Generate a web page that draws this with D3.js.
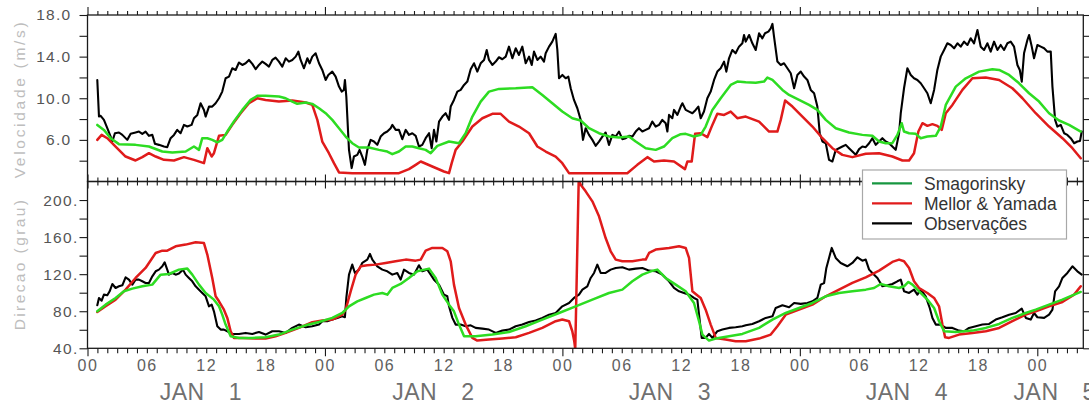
<!DOCTYPE html>
<html><head><meta charset="utf-8">
<script src="https://cdn.jsdelivr.net/npm/d3@7"></script>
<style>body{margin:0;background:#fff}svg{display:block}</style>
</head><body><svg id="c" width="1089" height="405"></svg>
<script>
// ---- DATA (hours since JAN 1 00Z, value) ----
const seriesNames = ["Smagorinsky", "Mellor & Yamada", "Observações"];
const panelTitles = ["Velocidade (m/s)", "Direcao (grau)"];
const monthLabel = "JAN";
const dayNumbers = [1, 2, 3, 4, 5];
const speedTickValues = [6, 10, 14, 18];
const speedTickLabels = ["6.0", "10.0", "14.0", "18.0"];
const dirTickValues = [40, 80, 120, 160, 200];
const dirTickLabels = ["40.", "80.", "120.", "160.", "200."];

const speedObs = [[0.99,11.76],[1.16,8.24],[1.33,8.31],[1.66,7.92],[2.0,7.12],[2.34,6.32],[2.51,5.84],[2.77,6.64],[3.18,6.71],[3.52,6.48],[4.02,6.0],[4.36,6.58],[4.86,6.71],[5.2,6.8],[5.54,6.58],[5.87,6.8],[6.21,6.39],[6.55,6.48],[6.82,5.62],[7.22,5.52],[7.73,5.36],[8.06,5.3],[8.4,6.16],[8.74,6.48],[9.07,6.96],[9.41,6.64],[9.75,7.44],[10.09,7.28],[10.52,7.44],[10.76,8.08],[11.1,8.4],[11.43,9.52],[11.77,8.88],[11.94,8.24],[12.28,9.2],[12.61,9.2],[12.95,9.52],[13.29,10.0],[13.62,10.64],[13.96,11.92],[14.3,12.08],[14.63,12.88],[14.97,12.72],[15.31,13.43],[15.65,13.2],[15.98,13.36],[16.32,13.68],[16.66,13.3],[17.0,12.79],[17.33,13.2],[17.67,13.52],[18.0,13.3],[18.34,13.04],[18.68,13.68],[19.01,13.91],[19.35,13.52],[19.69,13.04],[20.03,13.84],[20.36,13.52],[20.7,13.68],[21.04,14.0],[21.31,14.48],[21.54,13.68],[21.88,12.88],[22.22,13.84],[22.45,13.36],[22.72,14.0],[23.06,14.32],[23.4,13.36],[23.73,12.72],[24.07,11.76],[24.34,12.24],[24.74,12.56],[25.08,12.08],[25.42,11.12],[25.69,10.64],[25.92,10.8],[26.02,11.76],[26.16,10.16],[26.43,5.04],[26.7,3.29],[26.93,4.4],[27.27,4.56],[27.5,5.04],[27.77,4.4],[28.04,3.6],[28.28,5.04],[28.62,6.0],[28.95,5.84],[29.29,5.52],[29.63,6.32],[29.97,6.64],[30.3,6.8],[30.64,7.12],[30.81,7.44],[31.15,6.96],[31.48,6.96],[31.82,6.07],[32.16,6.96],[32.49,6.48],[32.83,6.64],[33.17,6.39],[33.5,5.36],[33.84,5.52],[34.18,6.16],[34.52,6.64],[34.79,5.2],[35.02,6.96],[35.26,5.84],[35.53,7.76],[35.87,8.24],[36.2,8.56],[36.54,7.92],[36.71,9.2],[37.04,9.84],[37.38,10.64],[37.72,10.8],[38.06,11.28],[38.39,11.6],[38.73,12.79],[39.07,13.36],[39.4,12.56],[39.74,13.36],[40.08,13.68],[40.35,14.64],[40.58,13.68],[40.92,13.2],[41.26,13.52],[41.59,13.94],[41.93,13.75],[42.27,14.0],[42.6,14.96],[42.94,13.84],[43.28,14.8],[43.61,14.16],[43.95,14.96],[44.29,13.36],[44.63,14.0],[44.9,13.2],[45.13,14.48],[45.47,13.68],[45.8,14.0],[46.14,13.52],[46.31,14.32],[46.65,14.96],[46.98,15.44],[47.32,16.18],[47.49,14.64],[47.66,11.92],[48.0,12.24],[48.33,11.92],[48.6,12.08],[48.84,10.96],[49.17,9.84],[49.51,9.04],[49.85,7.92],[50.08,6.0],[50.35,7.12],[50.69,6.48],[51.03,6.0],[51.36,5.43],[51.7,5.84],[52.04,6.32],[52.37,6.71],[52.71,5.52],[53.05,6.48],[53.39,6.32],[53.72,6.8],[54.06,6.07],[54.4,6.16],[54.73,6.39],[55.07,6.32],[55.41,6.8],[55.74,7.12],[56.08,6.8],[56.42,6.96],[56.76,7.12],[57.09,7.76],[57.43,7.28],[57.77,7.44],[58.1,7.92],[58.44,7.6],[58.61,6.8],[58.78,8.4],[59.11,8.08],[59.28,8.88],[59.62,8.4],[59.96,9.2],[60.13,9.52],[60.46,8.88],[60.8,8.72],[61.14,8.56],[61.47,8.88],[61.74,9.2],[61.98,8.08],[62.31,8.72],[62.65,10.0],[62.99,10.64],[63.33,11.76],[63.66,12.56],[64.0,12.88],[64.34,13.52],[64.57,12.56],[64.84,13.84],[65.18,14.64],[65.51,14.32],[65.85,14.96],[66.19,15.28],[66.36,16.08],[66.53,15.44],[66.87,16.08],[67.2,15.28],[67.54,14.64],[67.88,16.24],[68.21,15.76],[68.48,16.24],[68.82,16.4],[69.06,16.72],[69.23,17.14],[69.39,15.92],[69.73,13.52],[70.07,13.2],[70.4,13.36],[70.74,12.88],[71.08,12.4],[71.42,10.96],[71.75,12.24],[72.09,12.56],[72.43,12.08],[72.76,11.76],[73.1,10.8],[73.44,10.48],[73.77,9.2],[74.01,6.64],[74.28,5.84],[74.62,5.68],[74.95,4.08],[75.29,3.92],[75.63,5.04],[75.96,5.2],[76.3,5.36],[76.64,5.52],[76.97,5.2],[77.31,4.88],[77.65,4.56],[77.99,5.11],[78.32,5.36],[78.66,5.3],[79.0,5.68],[79.33,6.16],[79.67,5.52],[80.01,5.84],[80.34,6.16],[80.68,5.84],[81.02,5.68],[81.35,5.36],[81.69,5.04],[82.03,6.64],[82.2,8.56],[82.53,10.96],[82.87,12.88],[83.21,12.24],[83.54,11.92],[83.88,11.76],[84.22,11.44],[84.56,10.96],[84.89,10.48],[85.23,9.52],[85.57,10.8],[85.9,12.72],[86.24,14.0],[86.58,14.64],[86.91,15.28],[87.25,15.12],[87.59,14.8],[87.93,15.28],[88.26,14.96],[88.6,15.44],[88.94,15.12],[89.27,15.76],[89.61,15.28],[89.95,16.56],[90.28,14.96],[90.62,14.64],[90.96,15.28],[91.29,14.48],[91.63,15.44],[91.97,14.64],[92.3,15.12],[92.64,14.64],[92.98,15.28],[93.31,15.44],[93.65,14.96],[93.99,13.2],[94.23,12.72],[94.43,11.6],[94.66,14.32],[95.0,15.6],[95.17,16.08],[95.44,14.96],[95.67,13.84],[96.01,15.12],[96.35,14.96],[96.69,14.8],[97.02,14.48],[97.36,14.48],[97.53,11.12],[97.8,7.92],[98.03,7.28],[98.37,7.44],[98.71,6.64],[99.04,6.48],[99.38,6.16],[99.72,5.68],[100.05,5.84],[100.32,5.9],[100.49,6.8]];

const speedSmag = [[0.99,7.44],[1.66,6.96],[2.34,6.16],[3.18,5.59],[4.86,5.52],[6.21,5.36],[7.56,4.88],[8.57,4.79],[9.92,4.88],[10.76,5.36],[11.27,5.04],[11.6,6.16],[12.11,6.16],[12.61,6.0],[13.12,5.75],[13.62,6.0],[14.13,6.8],[14.8,7.76],[15.65,8.88],[16.49,9.84],[17.16,10.23],[18.0,10.23],[19.35,10.16],[20.03,10.0],[20.7,9.68],[21.2,9.46],[22.05,9.59],[22.72,9.46],[23.4,9.04],[24.07,8.56],[24.74,7.92],[25.42,7.12],[26.09,6.32],[26.76,5.68],[27.44,5.27],[28.45,5.27],[29.46,5.04],[30.3,4.88],[30.81,4.63],[31.48,4.88],[32.16,5.36],[32.83,5.36],[33.5,5.2],[34.18,5.04],[34.69,4.72],[35.36,5.43],[36.54,5.84],[37.55,5.68],[38.22,6.64],[38.9,8.24],[39.74,9.68],[40.58,10.64],[41.59,10.9],[43.28,10.96],[44.96,11.06],[45.97,10.32],[46.98,9.52],[47.99,8.72],[49.0,8.08],[49.85,7.86],[50.69,7.12],[51.7,6.64],[52.71,6.32],[53.72,6.23],[54.73,6.32],[55.41,5.84],[56.42,5.2],[57.43,5.04],[58.27,5.36],[59.11,6.16],[59.96,6.55],[60.46,6.58],[61.3,6.32],[61.98,6.48],[62.48,7.28],[63.16,8.88],[64.0,10.0],[65.01,11.28],[65.68,11.6],[66.53,11.54],[67.54,11.5],[68.38,11.6],[68.72,11.99],[69.23,11.76],[70.24,10.8],[70.91,10.32],[71.92,9.84],[72.93,9.36],[73.77,8.88],[74.62,7.92],[75.63,7.12],[76.97,6.71],[78.32,6.48],[79.33,6.39],[80.01,5.84],[80.68,5.68],[81.35,5.68],[81.86,6.48],[82.3,7.6],[82.53,6.8],[83.04,6.64],[83.71,6.58],[84.22,6.16],[84.89,6.32],[85.74,6.39],[86.24,7.28],[86.75,9.36],[87.76,11.12],[88.77,11.92],[90.12,12.56],[91.46,12.79],[92.14,12.72],[93.15,12.24],[94.16,11.44],[95.17,10.48],[96.18,9.68],[97.19,8.56],[98.2,7.86],[99.21,7.44],[100.39,6.8]];

const speedMY = [[0.99,6.0],[1.43,6.48],[2.0,6.16],[2.84,5.36],[3.85,4.4],[4.86,4.02],[5.54,4.34],[6.21,4.72],[6.89,4.4],[7.73,4.08],[8.74,4.02],[9.75,4.34],[10.76,4.08],[11.77,3.76],[12.11,5.2],[12.55,4.4],[12.78,4.72],[13.29,6.39],[13.96,6.48],[14.63,7.44],[15.48,8.56],[16.32,9.52],[17.16,10.0],[18.0,9.84],[19.35,9.68],[20.7,9.78],[22.05,9.59],[22.72,9.36],[23.23,7.92],[23.73,5.84],[24.4,4.72],[24.91,3.76],[25.42,2.87],[26.76,2.8],[30.13,2.8],[31.48,2.8],[32.49,3.19],[33.17,3.6],[33.68,3.92],[34.85,3.44],[36.03,2.96],[36.54,2.8],[36.81,3.76],[37.21,5.04],[37.89,5.84],[38.9,7.28],[39.91,8.08],[40.92,8.5],[41.76,8.5],[42.6,7.76],[43.61,7.28],[44.63,6.64],[45.47,5.36],[46.31,4.88],[47.32,4.4],[47.99,3.76],[48.67,2.8],[51.03,2.8],[54.56,2.8],[55.57,3.6],[56.59,4.34],[57.26,3.92],[58.27,4.02],[59.28,3.92],[60.39,3.19],[60.63,3.92],[61.07,3.92],[61.41,6.58],[61.98,6.64],[62.65,6.26],[63.16,7.44],[63.66,8.5],[64.34,8.4],[65.01,8.72],[65.68,8.08],[66.53,8.24],[67.88,7.76],[68.89,6.8],[69.73,6.8],[70.07,7.92],[70.51,9.78],[71.25,9.2],[72.26,8.24],[73.27,7.28],[74.28,6.16],[75.29,5.2],[76.3,4.56],[77.31,4.34],[78.66,4.66],[80.01,4.72],[81.35,4.4],[82.37,4.02],[83.04,4.02],[83.54,4.72],[83.98,6.8],[84.39,7.6],[84.89,7.35],[85.4,7.51],[85.9,7.35],[86.34,6.96],[86.75,8.56],[87.42,9.36],[88.43,10.8],[89.44,11.92],[90.79,11.99],[92.14,11.76],[93.48,10.96],[94.5,10.0],[95.84,8.56],[97.19,7.28],[98.54,6.16],[99.55,5.2],[100.39,4.24]];

const dirObs = [[0.99,86.4],[1.16,94.3],[1.43,91.4],[1.66,97.9],[2.0,97.2],[2.24,101.5],[2.51,109.4],[2.84,105.1],[3.18,106.9],[3.52,108.0],[3.85,116.6],[4.19,114.1],[4.53,108.7],[4.86,114.1],[5.2,114.1],[5.54,112.3],[5.87,110.5],[6.21,110.5],[6.55,117.7],[6.89,123.1],[7.22,124.9],[7.56,128.5],[7.8,132.8],[8.06,124.9],[8.23,119.5],[8.57,121.3],[8.91,119.5],[9.24,120.6],[9.65,124.9],[9.92,119.5],[10.25,115.9],[10.59,112.3],[10.93,106.9],[11.27,103.3],[11.6,99.7],[11.94,96.1],[12.28,85.3],[12.55,87.1],[12.78,79.9],[13.12,63.8],[13.46,60.2],[13.79,60.2],[14.13,58.4],[14.63,55.5],[15.31,55.5],[15.98,56.6],[16.66,55.5],[17.33,57.6],[18.0,54.8],[18.68,58.4],[19.35,58.4],[20.03,56.6],[20.7,62.0],[21.37,65.6],[22.05,62.7],[22.72,63.8],[23.4,65.6],[23.73,69.2],[24.24,69.2],[24.74,71.0],[25.25,72.8],[25.75,74.5],[26.02,73.5],[26.16,94.3],[26.43,119.5],[26.76,130.3],[27.03,121.3],[27.44,124.9],[27.77,132.1],[28.28,135.7],[28.55,141.8],[28.79,135.7],[29.29,128.5],[29.8,124.9],[30.3,123.1],[30.81,119.5],[31.31,121.3],[31.65,114.1],[31.99,124.9],[32.49,121.3],[33.0,119.5],[33.5,129.6],[33.84,123.1],[34.35,124.9],[34.69,119.5],[35.02,114.1],[35.53,108.7],[36.03,97.9],[36.37,96.1],[36.54,85.3],[36.88,72.8],[37.21,65.6],[37.72,65.6],[38.22,63.8],[38.73,64.8],[39.23,62.0],[39.91,61.2],[40.58,60.2],[41.26,56.6],[41.93,59.1],[42.6,60.2],[43.28,63.8],[43.95,65.6],[44.63,68.4],[45.3,69.9],[45.97,72.8],[46.65,76.3],[47.32,78.1],[47.99,85.3],[48.67,88.9],[49.17,94.3],[49.68,97.9],[50.02,103.3],[50.52,106.9],[50.86,115.9],[51.2,121.3],[51.53,130.3],[51.87,121.3],[52.37,121.3],[52.88,124.9],[53.39,126.7],[54.06,127.4],[54.73,124.9],[55.41,126.0],[56.08,126.7],[56.76,123.8],[57.43,123.1],[58.1,119.5],[58.78,112.3],[59.28,105.1],[59.79,101.5],[60.29,99.7],[60.8,97.9],[61.3,94.3],[61.64,92.5],[61.81,76.3],[62.08,51.2],[62.48,51.2],[62.82,55.5],[63.16,51.2],[63.66,58.4],[64.17,60.2],[64.84,62.0],[65.51,62.7],[66.19,63.8],[66.53,64.8],[67.2,66.3],[67.88,69.2],[68.55,72.8],[69.23,74.5],[69.56,83.5],[70.24,86.4],[70.91,84.3],[71.42,88.9],[72.09,87.9],[72.76,88.9],[73.27,90.7],[73.77,94.3],[74.11,108.7],[74.45,110.5],[74.68,126.7],[74.95,137.5],[75.22,148.3],[75.63,137.5],[76.13,132.1],[76.8,128.5],[77.31,132.1],[77.82,138.2],[78.32,134.6],[78.66,135.7],[79.0,124.9],[79.33,121.3],[79.84,115.9],[80.34,106.9],[80.85,108.0],[81.35,109.4],[81.86,112.3],[82.2,114.1],[82.53,101.5],[83.04,99.7],[83.54,103.3],[83.88,97.9],[84.22,103.3],[84.72,96.1],[85.13,83.5],[85.4,72.8],[85.74,65.6],[86.24,65.6],[86.75,62.0],[87.42,62.0],[88.09,59.1],[88.6,58.4],[89.1,62.0],[89.78,63.8],[90.45,65.6],[91.13,66.3],[91.8,71.0],[92.47,73.5],[93.15,76.3],[93.82,78.1],[94.43,82.8],[94.84,72.8],[95.34,71.0],[95.67,78.1],[96.01,73.5],[96.69,72.8],[97.19,76.3],[97.53,81.7],[97.8,101.5],[98.2,106.9],[98.54,115.9],[99.04,121.3],[99.55,128.5],[100.05,123.1],[100.49,119.5]];

const dirSmag = [[0.99,79.9],[1.83,87.1],[2.84,94.3],[3.68,101.5],[4.53,104.4],[5.54,106.9],[6.55,108.7],[7.39,119.5],[8.23,120.2],[9.24,124.9],[10.09,126.0],[10.59,119.5],[11.27,108.7],[11.94,99.7],[12.78,92.5],[13.29,85.3],[13.62,76.3],[13.96,65.6],[14.47,53.0],[15.31,51.2],[16.66,51.2],[18.0,51.9],[19.35,54.8],[20.7,60.2],[22.05,64.8],[23.4,68.4],[24.74,72.8],[25.75,78.1],[26.43,85.3],[27.27,90.7],[28.11,94.3],[28.95,97.9],[29.8,99.7],[30.3,97.9],[30.81,105.1],[31.65,109.4],[32.49,115.9],[33.34,123.1],[34.52,126.0],[35.19,115.9],[35.87,97.9],[36.54,87.1],[37.04,79.9],[37.55,65.6],[38.06,53.0],[39.23,53.0],[40.92,54.8],[42.6,57.6],[44.29,63.8],[45.97,71.0],[47.66,78.1],[49.34,85.3],[51.03,92.5],[52.71,99.7],[54.06,103.3],[55.07,112.3],[56.08,119.5],[56.93,123.1],[57.6,124.9],[58.44,115.9],[59.45,108.7],[60.46,101.5],[61.3,88.9],[61.81,69.2],[62.15,54.8],[62.82,48.3],[63.5,50.5],[64.84,53.0],[66.19,55.5],[67.88,62.0],[69.23,71.0],[70.57,78.1],[71.92,83.5],[73.27,88.9],[74.62,96.1],[75.96,99.7],[77.31,101.5],[78.66,103.3],[79.5,105.1],[80.17,109.4],[81.02,106.9],[82.03,105.1],[82.53,106.9],[82.97,111.6],[83.38,108.7],[84.05,101.5],[84.89,92.5],[85.57,83.5],[86.07,69.2],[86.58,58.4],[87.76,57.6],[89.44,59.1],[90.79,62.0],[92.14,66.3],[93.48,72.8],[94.83,78.1],[95.84,81.7],[97.19,87.1],[98.54,92.5],[99.55,97.2],[100.39,100.8]];

const dirMY = [[0.99,79.2],[1.83,85.3],[2.84,92.5],[3.85,103.3],[4.86,115.9],[5.87,126.7],[6.89,142.9],[7.56,145.4],[8.06,145.4],[8.91,150.1],[9.92,151.9],[10.93,154.4],[11.77,153.6],[12.11,141.1],[12.61,115.9],[12.95,96.1],[13.29,90.7],[13.79,81.7],[14.13,72.8],[14.47,58.4],[14.8,51.2],[15.65,51.2],[17.0,50.5],[18.0,50.5],[19.01,53.0],[20.03,56.6],[21.37,62.0],[22.72,68.1],[23.73,69.9],[24.74,71.0],[25.75,76.3],[26.09,81.7],[26.6,101.5],[27.1,119.5],[27.61,128.5],[28.28,129.6],[29.12,130.3],[30.13,132.1],[31.14,133.9],[32.16,135.7],[33.17,134.6],[33.68,135.7],[34.18,145.4],[34.85,148.3],[35.87,148.3],[36.37,144.7],[36.71,133.9],[37.04,108.7],[37.55,83.5],[38.22,65.6],[38.9,51.2],[39.4,48.3],[40.58,49.4],[41.93,50.5],[43.28,51.9],[44.63,56.6],[45.97,62.0],[47.32,69.2],[47.99,71.0],[48.67,69.2],[49.0,58.4],[49.2,47.6],[49.3,39.0],[49.65,222.0],[49.85,216.6],[50.35,209.4],[51.03,198.6],[51.7,182.4],[52.37,159.0],[52.88,144.7],[53.39,135.7],[54.06,133.9],[55.07,133.9],[56.08,135.7],[56.42,135.7],[56.76,142.9],[57.43,146.5],[58.78,148.3],[59.79,150.1],[60.46,148.3],[60.8,137.5],[61.14,101.5],[61.47,98.6],[61.98,94.3],[62.48,81.7],[62.99,65.6],[63.5,51.2],[64.5,49.4],[65.51,47.6],[66.53,47.6],[67.88,50.5],[69.06,54.8],[69.73,63.8],[70.57,76.3],[71.92,81.7],[73.27,87.1],[74.62,96.1],[75.96,103.3],[77.31,110.5],[78.66,116.6],[80.01,123.8],[81.35,133.2],[82.03,135.7],[82.53,133.9],[83.04,126.7],[83.54,112.3],[84.05,105.1],[84.89,99.7],[85.57,94.3],[86.07,85.3],[86.41,65.6],[86.68,51.9],[87.08,51.2],[88.09,54.8],[89.44,56.6],[90.79,58.4],[92.14,62.0],[93.48,69.2],[94.83,76.3],[95.84,79.9],[97.19,85.3],[98.54,90.0],[99.72,97.9],[100.39,106.9]];

// ---- LAYOUT ----
const svg = d3.select("#c");
const FONT = "'Liberation Sans', Arial, sans-serif";
const x = d3.scaleLinear().domain([0, 100.65]).range([87.5, 1083.3]);
const yS = d3.scaleLinear().domain([2, 18]).range([181.5, 15]);
const yD = d3.scaleLinear().domain([40, 220]).range([348.3, 181.5]);
const colors = {smag: "#2ddc22", my: "#e01b1b", obs: "#000000"};
const legendColors = ["#179640", "#e01b1b", "#000000"];
const axisColor = "#1a1a1a";

const defs = svg.append("defs");
defs.append("clipPath").attr("id", "clipS").append("rect")
  .attr("x", x(0)).attr("y", yS(18)).attr("width", x(100.65) - x(0)).attr("height", yS(2) - yS(18));
defs.append("clipPath").attr("id", "clipD").append("rect")
  .attr("x", x(0)).attr("y", yD(220)).attr("width", x(100.65) - x(0)).attr("height", yD(40) - yD(220));

function drawLines(y, clip, obs, smag, my) {
  const line = d3.line().x(d => x(d[0])).y(d => y(d[1]));
  const g = svg.append("g").attr("clip-path", `url(#${clip})`).attr("fill", "none")
    .attr("stroke-linejoin", "round").attr("stroke-linecap", "round");
  g.append("path").datum(obs).attr("d", line).attr("stroke", colors.obs).attr("stroke-width", 2.1);
  g.append("path").datum(my).attr("d", line).attr("stroke", colors.my).attr("stroke-width", 2.5);
  g.append("path").datum(smag).attr("d", line).attr("stroke", colors.smag).attr("stroke-width", 2.5);
}
drawLines(yS, "clipS", speedObs, speedSmag, speedMY);
drawLines(yD, "clipD", dirObs, dirSmag, dirMY);

// ---- Ticks ----
const hours = d3.range(0, 101);
const minorH = hours.filter(h => h % 24 !== 0);
const majorH = hours.filter(h => h % 24 === 0);
function xTicks(gen, yPos, vals, size) {
  svg.append("g").attr("transform", `translate(0,${yPos})`)
    .call(gen(x).tickValues(vals).tickSize(size).tickFormat(""))
    .call(g => g.select(".domain").remove())
    .call(g => g.selectAll("line").attr("stroke", axisColor).attr("stroke-width", 1.1));
}
const yTop = yS(18), yMid = yS(2), yBot = yD(40);
xTicks(d3.axisTop, yTop, minorH, 4);
xTicks(d3.axisTop, yTop, majorH, 8);
xTicks(d3.axisTop, yMid, minorH, 4);
xTicks(d3.axisBottom, yMid, minorH, 4);
xTicks(d3.axisTop, yMid, majorH, 7);
xTicks(d3.axisBottom, yMid, majorH, 7);
xTicks(d3.axisBottom, yBot, minorH, 5);
xTicks(d3.axisBottom, yBot, majorH, 8);

// x tick labels
svg.append("g").attr("transform", `translate(0,${yBot})`)
  .call(d3.axisBottom(x).tickValues(d3.range(0, 97, 6)).tickSize(0).tickPadding(11)
    .tickFormat(h => String(h % 24).padStart(2, "0")))
  .call(g => g.select(".domain").remove())
  .call(g => g.selectAll("text").attr("font-family", FONT).attr("font-size", 16)
    .attr("fill", "#606060").attr("letter-spacing", 1.5));

// day labels
const dayAnchorHours = [7.3, 30.8, 54.7, 78.65, 93.6];
dayNumbers.forEach((d, i) => {
  const x0 = x(dayAnchorHours[i]);
  const g = svg.append("g").attr("font-family", FONT).attr("font-size", 23).attr("fill", "#707070");
  g.append("text").attr("x", x0).attr("y", 400).attr("letter-spacing", 0.5).text(monthLabel);
  g.append("text").attr("x", x0 + 69).attr("y", 400).text(d);
});

// y axes
function yAxis(scale, vals, labVals, labs, rightEdgeOffset, x0, x1) {
  const fmt = v => { const i = labVals.indexOf(v); return i >= 0 ? labs[i] : ""; };
  svg.append("g").attr("transform", `translate(${x0},0)`)
    .call(d3.axisLeft(scale).tickValues(vals).tickSize(8).tickPadding(rightEdgeOffset).tickFormat(fmt))
    .call(g => g.select(".domain").remove())
    .call(g => g.selectAll("line").attr("stroke", axisColor).attr("stroke-width", 1.1))
    .call(g => g.selectAll("text").attr("font-family", FONT).attr("font-size", 15.5)
      .attr("fill", "#555").attr("letter-spacing", 1.3));
  svg.append("g").attr("transform", `translate(${x1},0)`)
    .call(d3.axisRight(scale).tickValues(vals).tickSize(6).tickFormat(""))
    .call(g => g.select(".domain").remove())
    .call(g => g.selectAll("line").attr("stroke", axisColor).attr("stroke-width", 1.1));
}
yAxis(yS, d3.range(4, 19, 2), speedTickValues, speedTickLabels, 8, x(0), x(100.65));
yAxis(yD, d3.range(40, 201, 20), dirTickValues, dirTickLabels, 1, x(0), x(100.65));

// frames
const fr = svg.append("g").attr("fill", "none").attr("stroke", axisColor).attr("stroke-width", 1.3);
fr.append("rect").attr("x", x(0)).attr("y", yTop).attr("width", x(100.65) - x(0)).attr("height", yMid - yTop);
fr.append("rect").attr("x", x(0)).attr("y", yMid).attr("width", x(100.65) - x(0)).attr("height", yBot - yMid);

// axis titles
const titleY = [99, 264], titleSp = [2.7, 2.4];
panelTitles.forEach((t, i) => {
  svg.append("text").attr("transform", `translate(19,${titleY[i]}) rotate(-90)`)
    .attr("text-anchor", "middle").attr("dominant-baseline", "central")
    .attr("font-family", FONT).attr("font-size", 15.5).attr("fill", "#bdbdbd")
    .attr("letter-spacing", titleSp[i]).text(t);
});

// legend
const lg = svg.append("g");
lg.append("rect").attr("x", 862.5).attr("y", 170).attr("width", 204).attr("height", 69)
  .attr("fill", "#fff").attr("stroke", "#a8a8a8").attr("stroke-width", 1.2);
seriesNames.forEach((n, i) => {
  const yy = 183.3 + i * 20;
  lg.append("line").attr("x1", 872).attr("x2", 912).attr("y1", yy).attr("y2", yy)
    .attr("stroke", legendColors[i]).attr("stroke-width", 2.2);
  lg.append("text").attr("x", 924).attr("y", yy + 6.3).attr("font-family", FONT)
    .attr("font-size", 17.5).attr("fill", "#333").text(n);
});
</script></body></html>
